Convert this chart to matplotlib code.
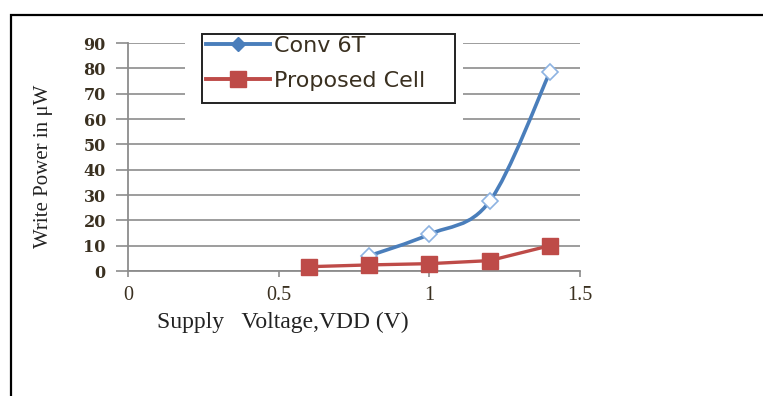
import numpy as np
import matplotlib
matplotlib.use('Agg')
import matplotlib.pyplot as plt
from matplotlib.path import Path
from matplotlib.patches import PathPatch, Rectangle
from matplotlib.lines import Line2D

# data
vdd_conv = [0.8, 1.0, 1.2, 1.4]
power_conv = [6, 14.5, 27.5, 78.5]
vdd_prop = [0.6, 0.8, 1.0, 1.2, 1.4]
power_prop = [1.7, 2.4, 2.9, 4.1, 10.0]
x_ticks = [0, 0.5, 1, 1.5]
y_ticks = [0, 10, 20, 30, 40, 50, 60, 70, 80, 90]

blue = '#4A7EBB'
red = '#BE4B48'
grid_c = '#8C8C8C'

fig = plt.figure(figsize=(7.63, 3.96), dpi=100)
fig.patch.set_facecolor('white')

# outer frame (left + top visible)
fig.patches.append(Rectangle((11 / 763, -0.1), 1.2, 1 - 15 / 396 + 0.1,
                             transform=fig.transFigure, fill=False,
                             edgecolor='black', linewidth=1.6))

ax = fig.add_axes([128 / 763, 1 - 271 / 396, (580 - 128) / 763, (271 - 43) / 396])
ax.set_xlim(0, 1.5)
ax.set_ylim(0, 90)

for s in ['top', 'right']:
    ax.spines[s].set_visible(False)
ax.spines['left'].set_color(grid_c)
ax.spines['bottom'].set_color(grid_c)
ax.spines['left'].set_linewidth(1.3)
ax.spines['bottom'].set_linewidth(1.3)

ax.set_yticks(y_ticks)
ax.set_xticks(x_ticks)
ax.set_xticklabels(['0', '0.5', '1', '1.5'])
ax.yaxis.grid(True, color=grid_c, linewidth=1.2)
ax.set_axisbelow(True)
ax.tick_params(axis='y', length=9, width=1.2, color=grid_c, pad=7)
ax.tick_params(axis='x', length=4, width=1.2, color=grid_c, pad=7)
for lab in ax.get_yticklabels():
    lab.set_fontfamily('DejaVu Serif')
    lab.set_fontweight('bold')
    lab.set_fontsize(11.5)
    lab.set_color('#3A3020')
for lab in ax.get_xticklabels():
    lab.set_fontfamily('Liberation Serif')
    lab.set_fontsize(14.5)
    lab.set_color('#3A3020')

# white area behind the legend, hiding the grid
ax.add_patch(Rectangle((0.189, 55), 0.923, 40, facecolor='white', edgecolor='none',
                       zorder=1.5, clip_on=False))
# legend box
ax.add_patch(Rectangle((0.2456, 66.3), 0.8394, 27.3, facecolor='none',
                       edgecolor='#222222', linewidth=1.4, zorder=6, clip_on=False))

# smoothed Conv 6T curve (Excel-style bezier smoothing)
pts = np.column_stack([vdd_conv, power_conv])
verts = [tuple(pts[0])]
codes = [Path.MOVETO]
n = len(pts)
for i in range(n - 1):
    p0 = pts[max(i - 1, 0)]
    p1 = pts[i]
    p2 = pts[i + 1]
    p3 = pts[min(i + 2, n - 1)]
    c1 = p1 + (p2 - p0) / 6
    c2 = p2 - (p3 - p1) / 6
    verts += [tuple(c1), tuple(c2), tuple(p2)]
    codes += [Path.CURVE4] * 3
ax.add_patch(PathPatch(Path(verts, codes), facecolor='none', edgecolor=blue,
                       linewidth=2.6, zorder=3))
ax.plot(vdd_conv, power_conv, linestyle='none', marker='D', markersize=8,
        markerfacecolor='white', markeredgecolor='#8DB3E2', markeredgewidth=1.2,
        zorder=4, clip_on=False)

ax.plot(vdd_prop, power_prop, color=red, linewidth=2.4, marker='s', markersize=11,
        markerfacecolor=red, markeredgecolor=red, zorder=5, clip_on=False)

handles = [
    Line2D([], [], color=blue, linewidth=2.8, marker='D', markersize=7,
           markerfacecolor=blue, markeredgecolor=blue),
    Line2D([], [], color=red, linewidth=2.8, marker='s', markersize=11,
           markerfacecolor=red, markeredgecolor=red),
]
leg = ax.legend(handles, ['Conv 6T', 'Proposed Cell'], loc='upper left',
                bbox_to_anchor=((206 - 128) / 452, (271 - 35.5) / 228),
                prop={'family': 'DejaVu Sans', 'size': 16}, frameon=False,
                borderpad=0, labelspacing=0.7,
                handlelength=2.9, handletextpad=0.15, borderaxespad=0)
leg.set_zorder(7)
for t in leg.get_texts():
    t.set_color('#3A3020')

ax.set_xlabel('')
ax.set_ylabel('')
fig.text(283 / 763, 1 - 322 / 396, 'Supply   Voltage,VDD (V)', ha='center', va='center',
         fontfamily='Liberation Serif', fontsize=17, color='#222222')
fig.text(44 / 763, 1 - 166 / 396, 'Write Power in \u03bcW', ha='center', va='center',
         rotation=90, fontfamily='Liberation Serif', fontsize=15, color='#222222')

fig.savefig('out.png', dpi=100)
